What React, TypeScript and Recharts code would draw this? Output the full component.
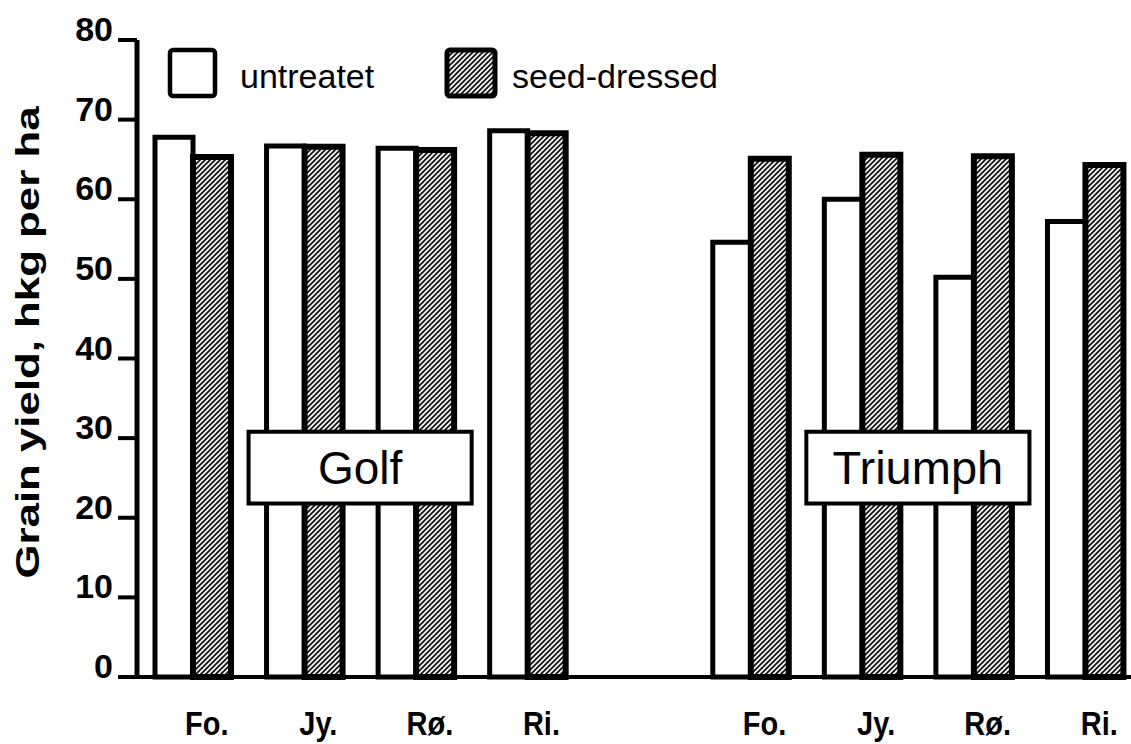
import React from 'react';
import { BarChart, Bar, XAxis, YAxis, ReferenceArea } from 'recharts';

const sites = ['Fo.', 'Jy.', 'Rø.', 'Ri.'];
const varieties = ['Golf', 'Triumph'];
const golfUntreated = [67.8, 66.7, 66.4, 68.6];
const golfSeedDressed = [65.3, 66.6, 66.2, 68.3];
const triumphUntreated = [54.6, 60.0, 50.2, 57.2];
const triumphSeedDressed = [65.1, 65.6, 65.4, 64.3];
const yTicks = [0, 10, 20, 30, 40, 50, 60, 70, 80];
const seriesNames = ['untreatet', 'seed-dressed'];
const yLabel = 'Grain yield, hkg per ha';

const FONT = '"Liberation Sans", Arial, Helvetica, sans-serif';

const rows: any[] = [
  ...sites.map((s, i) => ({ key: `${varieties[0]}|${s}`, untreated: golfUntreated[i], seed: golfSeedDressed[i] })),
  { key: 'gap|' },
  ...sites.map((s, i) => ({ key: `${varieties[1]}|${s}`, untreated: triumphUntreated[i], seed: triumphSeedDressed[i] })),
];

const XTick = (props: any) => {
  const { x, y, payload } = props;
  const label = String(payload.value).split('|')[1] || '';
  return (
    <text
      transform={`translate(${x + 14}, ${y + 58}) scale(1, 1.12)`}
      textAnchor="middle"
      fontFamily={FONT}
      fontWeight="bold"
      fontSize={29}
      fill="#000"
    >
      {label}
    </text>
  );
};

const YTick = (props: any) => {
  const { x, y, payload } = props;
  return (
    <text x={x} y={y + 1} textAnchor="end" fontFamily={FONT} fontWeight="bold" fontSize={34} fill="#000">
      {payload.value}
    </text>
  );
};

const YLabel = (props: any) => {
  const vb = props.viewBox || { x: 0, y: 40, width: 137, height: 637 };
  const cx = vb.x + 27;
  const cy = vb.y + vb.height / 2 - 16;
  return (
    <text
      x={cx}
      y={cy}
      transform={`rotate(-90, ${cx}, ${cy})`}
      textAnchor="middle"
      dominantBaseline="central"
      fontFamily={FONT}
      fontWeight="bold"
      fontSize={33}
      textLength={472}
      lengthAdjust="spacingAndGlyphs"
      fill="#000"
    >
      {yLabel}
    </text>
  );
};

const Hatch = ({ id }: { id: string }) => (
  <pattern id={id} patternUnits="userSpaceOnUse" width="5" height="5">
    <rect width="5" height="5" fill="#f2f2f2" />
    <path d="M-1,1 L1,-1 M0,5 L5,0 M4,6 L6,4" stroke="#111" strokeWidth="1.7" />
  </pattern>
);

const LegendOverlay = () => (
  <svg width={1131} height={110} style={{ position: 'absolute', left: 0, top: 0 }}>
    <defs>
      <Hatch id="hatchLegend" />
    </defs>
    <rect x={170} y={50} width={45} height={46} rx={3} fill="#fff" stroke="#000" strokeWidth={4.5} />
    <text x={240} y={88} fontFamily={FONT} fontSize={34} fill="#000">{seriesNames[0]}</text>
    <rect x={447} y={50} width={48} height={46} rx={3} fill="url(#hatchLegend)" stroke="#000" strokeWidth={5} />
    <text x={512} y={88} fontFamily={FONT} fontSize={34} fill="#000">{seriesNames[1]}</text>
  </svg>
);

export default function App() {
  return (
    <div style={{ position: 'absolute', left: 0, top: 0, width: 1131, height: 744, overflow: 'hidden', background: '#fff' }}>
      <BarChart
        width={1141}
        height={744}
        data={rows}
        margin={{ top: 40, right: 0, bottom: 0, left: 0 }}
        barGap={0}
      >
        <defs>
          <Hatch id="hatchBar" />
        </defs>
        <XAxis
          dataKey="key"
          height={67}
          interval={0}
          tickLine={false}
          tickSize={0}
          tickMargin={0}
          axisLine={{ stroke: '#000', strokeWidth: 4 }}
          tick={<XTick />}
        />
        <YAxis
          width={137}
          domain={[0, 80]}
          ticks={yTicks}
          interval={0}
          tickSize={19}
          tickMargin={5}
          tickLine={{ stroke: '#000', strokeWidth: 4 }}
          axisLine={{ stroke: '#000', strokeWidth: 5 }}
          tick={<YTick />}
          label={<YLabel />}
        />
        <Bar dataKey="untreated" name={seriesNames[0]} fill="#fff" stroke="#000" strokeWidth={5} barSize={38} isAnimationActive={false} />
        <Bar dataKey="seed" name={seriesNames[1]} fill="url(#hatchBar)" stroke="#000" strokeWidth={6} barSize={38} isAnimationActive={false} />
        <ReferenceArea
          x1={`${varieties[0]}|Jy.`}
          x2={`${varieties[0]}|Rø.`}
          y1={21.8}
          y2={30.8}
          fill="#fff"
          fillOpacity={1}
          stroke="#000"
          strokeWidth={4}
          ifOverflow="visible"
          zIndex={1500}
          label={{ value: varieties[0], position: 'center', fontSize: 46, fill: '#000', fontFamily: FONT }}
        />
        <ReferenceArea
          x1={`${varieties[1]}|Jy.`}
          x2={`${varieties[1]}|Rø.`}
          y1={21.8}
          y2={30.8}
          fill="#fff"
          fillOpacity={1}
          stroke="#000"
          strokeWidth={4}
          ifOverflow="visible"
          zIndex={1500}
          label={{ value: varieties[1], position: 'center', fontSize: 47, fill: '#000', fontFamily: FONT }}
        />
      </BarChart>
      <LegendOverlay />
    </div>
  );
}
